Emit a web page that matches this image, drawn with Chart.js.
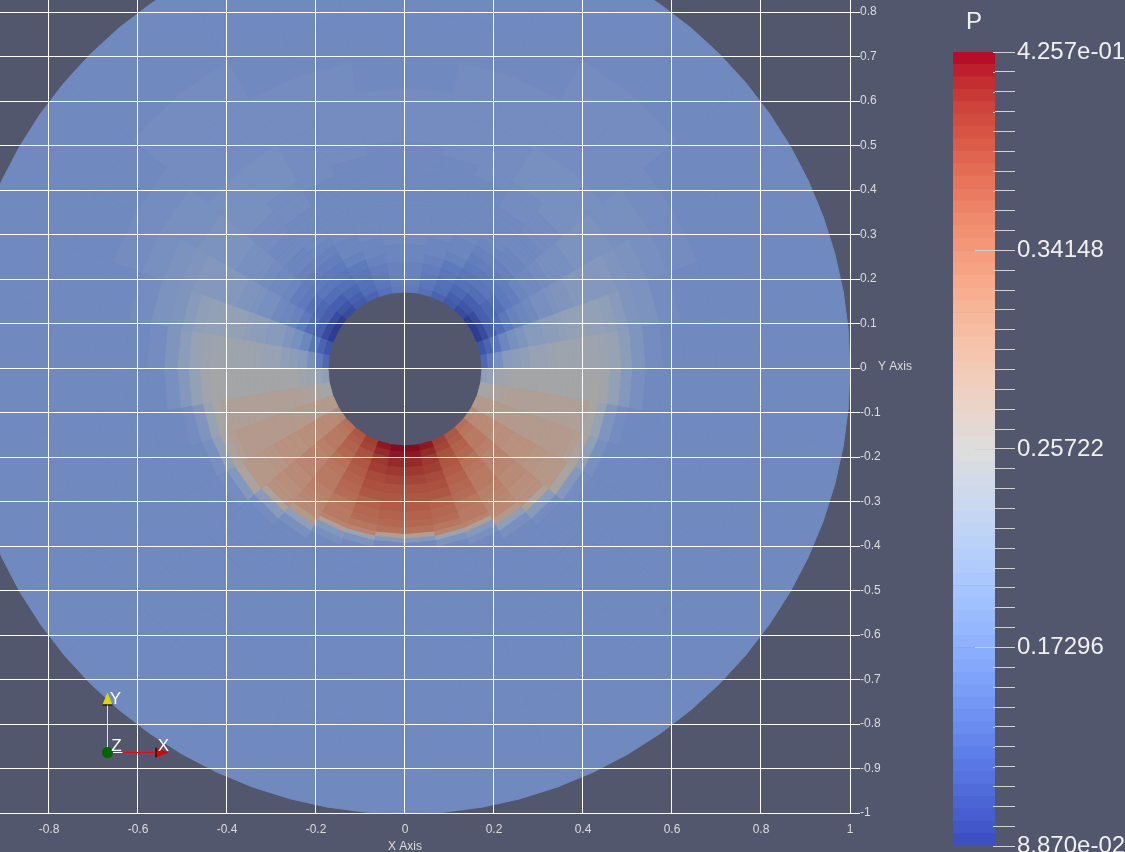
<!DOCTYPE html>
<html>
<head>
<meta charset="utf-8">
<title>P</title>
<style>
  html, body { margin: 0; padding: 0; background: #52576e; overflow: hidden; }
  canvas { position: absolute; top: 0; }
</style>
<script src="https://cdn.jsdelivr.net/npm/chart.js@4/dist/chart.umd.js"></script>
</head>
<body>
<canvas id="field" width="1125" height="852" style="left:0"></canvas>
<canvas id="bar" width="195" height="852" style="left:930px"></canvas>
<script>
const xTicks = [-0.8, -0.6, -0.4, -0.2, 0, 0.2, 0.4, 0.6, 0.8, 1];
const yTicks = [-1, -0.9, -0.8, -0.7, -0.6, -0.5, -0.4, -0.3, -0.2, -0.1, 0, 0.1, 0.2, 0.3, 0.4, 0.5, 0.6, 0.7, 0.8];

// shell edges of the mesh, hole to outer wall
const radii = [0.173, 0.185, 0.2, 0.22, 0.24, 0.26, 0.28, 0.3, 0.32, 0.34, 0.355, 0.37, 0.38,
  0.39, 0.405, 0.42, 0.44, 0.46, 0.485, 0.51, 0.54, 0.58, 0.63, 0.7, 0.8, 1];
const wedgeWidth = 10;
const farField = 0.183;

// P per wedge (from the bottom, going up one side), per shell. Shells past the end of a row are far field
const pressure = [
  [.426, .418, .405, .395, .385, .378, .372, .366, .36, .352, .345, .28, .205],
  [.419, .409, .399, .389, .382, .375, .368, .362, .355, .348, .341, .325, .24, .195],
  [.392, .385, .378, .372, .365, .358, .352, .348, .341, .335, .331, .325, .274, .207, .19],
  [.372, .365, .358, .352, .345, .341, .335, .331, .328, .321, .318, .314, .311, .291, .224, .19],
  [.345, .338, .335, .331, .328, .325, .321, .318, .314, .311, .308, .308, .304, .301, .27, .21, .188],
  [.318, .314, .311, .311, .308, .308, .304, .304, .301, .298, .298, .294, .294, .291, .291, .264, .207, .188],
  [.284, .284, .287, .287, .287, .287, .287, .287, .287, .284, .284, .284, .284, .284, .281, .27, .225, .19],
  [.254, .26, .267, .271, .274, .274, .274, .274, .274, .274, .274, .274, .274, .274, .274, .262, .235, .2, .187],
  [.224, .234, .244, .25, .254, .254, .257, .257, .257, .257, .257, .257, .257, .257, .257, .255, .248, .23, .208, .19],
  [.139, .16, .19, .21, .22, .225, .232, .235, .24, .242, .244, .245, .246, .246, .246, .245, .24, .232, .22, .2, .188],
  [.116, .133, .156, .176, .19, .2, .21, .213, .217, .22, .224, .227, .227, .23, .23, .23, .228, .222, .213, .204, .195, .187],
  [.089, .109, .129, .146, .16, .17, .176, .183, .19, .193, .197, .2, .203, .203, .205, .207, .207, .207, .205, .2, .195, .19, .185],
  [.089, .109, .126, .139, .15, .16, .166, .173, .18, .183, .186, .186, .19, .19, .193, .193, .196, .197, .197, .196, .194, .19, .186],
  [.105, .118, .13, .142, .152, .16, .166, .17, .175, .178, .18, .181, .182, .183, .185, .186, .188, .189, .19, .19, .19, .188, .186, .184],
  [.122, .13, .14, .148, .155, .161, .167, .172, .176, .179, .18, .181, .182, .182, .182, .184, .186, .187, .189, .189, .189, .188, .186, .184],
  [.136, .142, .15, .156, .162, .168, .173, .176, .179, .18, .181, .181, .182, .182, .182, .182, .183, .185, .186, .187, .187, .186, .184],
  [.15, .155, .161, .166, .171, .175, .177, .179, .18, .181, .181, .181, .182, .182, .182, .182, .182, .183, .184, .185, .186, .184, .184],
  [.158, .163, .168, .172, .175, .178, .18, .182, .183, .183, .183, .183, .183, .183, .183, .183, .183, .183, .183, .184, .185, .184]
];
const holeCenterY = -0.002;

const barValues = [0.0887, 0.17296, 0.25722, 0.34148, 0.4257];
const barLabels = ['8.870e-02', '0.17296', '0.25722', '0.34148', '4.257e-01'];
const barBands = 64;
const minorPerMajor = 10;

// cool to warm table
const coolWarm = [[59,76,192],[68,90,204],[77,104,215],[87,117,225],[98,130,234],[108,142,241],[119,154,247],
  [130,165,251],[141,176,254],[152,185,255],[163,194,255],[174,201,253],[184,208,249],[194,213,244],[204,217,238],
  [213,219,230],[221,221,221],[229,216,209],[236,211,197],[241,204,185],[245,196,173],[247,187,160],[247,177,148],
  [247,166,135],[244,154,123],[241,141,111],[236,127,99],[229,112,88],[222,96,77],[213,80,66],[203,62,56],[192,40,47],[180,4,38]];

const pMin = barValues[0], pMax = barValues[barValues.length - 1];
const shade = 0.75; // surface lighting in the 3D view, the bar is unlit

function bandColor(p, light) {
  const t = Math.min(Math.max((p - pMin) / (pMax - pMin), 0), 0.9999);
  const mid = (Math.floor(t * barBands) + 0.5) / barBands * (coolWarm.length - 1);
  const i = Math.floor(mid), f = mid - i;
  const c = coolWarm[i].map((v, k) => Math.round((v + (coolWarm[i + 1][k] - v) * f) * light));
  return `rgb(${c[0]},${c[1]},${c[2]})`;
}

function polar(r, deg) {
  const a = deg * Math.PI / 180;
  return { x: r * Math.cos(a), y: holeCenterY + r * Math.sin(a) };
}

const cells = [];
pressure.forEach((row, k) => {
  for (let s = 0; s < radii.length - 1; s++) {
    const color = bandColor(row[s] ?? farField, shade);
    const outer = radii[s + 1];
    // wedge k and its mirror on the other side of the vertical
    [[-90 + k * wedgeWidth, -90 + (k + 1) * wedgeWidth], [-90 - k * wedgeWidth, -90 - (k + 1) * wedgeWidth]].forEach(([a0, a1]) => {
      // the outer wall is rounder than the wedges, give it a middle vertex
      const rim = s === radii.length - 2 ? [polar(outer, (a0 + a1) / 2)] : [];
      cells.push({
        data: [polar(radii[s], a0), polar(outer, a0), ...rim, polar(outer, a1), polar(radii[s], a1), polar(radii[s], a0)],
        showLine: true,
        fill: 'shape',
        backgroundColor: color,
        borderColor: color,
        borderWidth: 1,
        pointRadius: 0
      });
    });
  }
});

Chart.defaults.font.family = "'Liberation Sans', Arial, sans-serif";
Chart.defaults.animation = false;

const overlay = {
  id: 'overlay',
  afterDraw(chart) {
    const { ctx, scales } = chart;
    const ox = Math.round(scales.x.getPixelForValue(-0.67)) + 0.5;
    const oy = Math.round(scales.y.getPixelForValue(-0.862)) + 0.5;
    ctx.save();
    ctx.textAlign = 'center';
    ctx.textBaseline = 'middle';
    ctx.fillStyle = '#dcdcdc';
    ctx.font = "12px 'Liberation Sans'";
    ctx.fillText('Y Axis', 895, 367);
    ctx.fillText('X Axis', 405, 847);

    // orientation triad
    ctx.lineWidth = 1;
    ctx.strokeStyle = '#ffff00';
    ctx.beginPath(); ctx.moveTo(ox, oy); ctx.lineTo(ox, oy - 48); ctx.stroke();
    ctx.strokeStyle = '#ff0000';
    ctx.beginPath(); ctx.moveTo(ox, oy); ctx.lineTo(ox + 48, oy); ctx.stroke();
    ctx.strokeStyle = '#ffffff';
    ctx.beginPath(); ctx.moveTo(ox, oy); ctx.lineTo(ox + 15, oy); ctx.stroke();

    ctx.fillStyle = '#d8d800';
    ctx.beginPath(); ctx.moveTo(ox, oy - 60); ctx.lineTo(ox + 5, oy - 48); ctx.lineTo(ox - 5, oy - 48); ctx.fill();
    ctx.fillStyle = '#000000';
    ctx.fillRect(ox - 5, oy - 48, 10, 1);
    ctx.fillStyle = '#d80000';
    ctx.beginPath(); ctx.moveTo(ox + 61, oy); ctx.lineTo(ox + 48, oy - 5); ctx.lineTo(ox + 48, oy + 5); ctx.fill();
    ctx.fillStyle = '#000000';
    ctx.fillRect(ox + 48, oy - 5, 1, 10);
    ctx.fillStyle = '#006400';
    ctx.beginPath(); ctx.arc(ox, oy, 5.5, 0, Math.PI * 2); ctx.fill();

    ctx.fillStyle = '#ffffff';
    ctx.font = "17px 'Liberation Sans'";
    ctx.fillText('Y', ox + 8, oy - 53);
    ctx.fillText('Z', ox + 9, oy - 6);
    ctx.fillText('X', ox + 56, oy - 6);
    ctx.restore();
  }
};

new Chart(document.getElementById('field'), {
  type: 'scatter',
  data: { datasets: cells },
  plugins: [overlay],
  options: {
    responsive: false,
    events: [],
    layout: { padding: 0 },
    plugins: { legend: { display: false }, tooltip: { enabled: false } },
    scales: {
      x: {
        type: 'linear', position: 'bottom', min: -0.9101, max: 1,
        afterBuildTicks: s => { s.ticks = xTicks.map(value => ({ value })); },
        afterFit: s => { s.height = 39; s.paddingLeft = s.paddingRight = 0; },
        grid: { color: '#ffffff', z: 1, drawTicks: false },
        border: { color: '#ffffff', z: 1 },
        ticks: { color: '#dcdcdc', font: { size: 12 }, padding: 9, maxRotation: 0, autoSkip: false, callback: v => String(v) }
      },
      y: {
        type: 'linear', position: 'right', min: -1, max: 0.827,
        afterBuildTicks: s => { s.ticks = yTicks.map(value => ({ value })); },
        afterFit: s => { s.width = 275; s.paddingTop = s.paddingBottom = 0; },
        grid: { color: '#ffffff', z: 1, tickLength: 10 },
        border: { color: '#ffffff', z: 1 },
        ticks: { color: '#dcdcdc', font: { size: 12 }, padding: 0, autoSkip: false, callback: v => String(v) }
      }
    }
  }
});

const barEdges = Array.from({ length: barBands + 1 }, (_, i) => pMin + (pMax - pMin) * i / barBands);
const barTickValues = [];
for (let m = 0; m < barValues.length - 1; m++) {
  for (let i = 0; i < minorPerMajor; i++) {
    barTickValues.push(barValues[m] + (barValues[m + 1] - barValues[m]) * i / minorPerMajor);
  }
}
barTickValues.push(pMax);

const majorTicks = {
  id: 'majorTicks',
  afterDraw(chart) {
    const { ctx, scales, chartArea } = chart;
    ctx.save();
    ctx.strokeStyle = '#d2d2d2';
    ctx.lineWidth = 1;
    scales.y.ticks.forEach(t => {
      const inner = barValues.slice(1, -1).includes(t.value) ? 45 : 63; // long stub for the labelled middle ticks
      const py = Math.round(scales.y.getPixelForValue(t.value)) + 0.5;
      ctx.beginPath(); ctx.moveTo(inner, py); ctx.lineTo(chartArea.right, py); ctx.stroke();
    });
    ctx.fillStyle = '#f0f0f0';
    ctx.font = "24px 'Liberation Sans'";
    ctx.textAlign = 'center';
    ctx.textBaseline = 'middle';
    ctx.fillText('P', 44, 22);
    ctx.restore();
  }
};

new Chart(document.getElementById('bar'), {
  type: 'bar',
  data: {
    labels: [''],
    datasets: barEdges.slice(0, -1).map((lo, i) => ({
      data: [[lo, barEdges[i + 1]]],
      grouped: false,
      barPercentage: 1,
      categoryPercentage: 1,
      backgroundColor: bandColor((lo + barEdges[i + 1]) / 2, 1),
      borderWidth: 0
    }))
  },
  plugins: [majorTicks],
  options: {
    responsive: false,
    events: [],
    layout: { padding: { left: 23, top: 52, bottom: 6 } },
    plugins: { legend: { display: false }, tooltip: { enabled: false } },
    scales: {
      x: { display: false },
      y: {
        type: 'linear', position: 'right', min: pMin, max: pMax,
        afterBuildTicks: s => { s.ticks = barTickValues.map(value => ({ value })); },
        afterFit: s => { s.width = 130; s.paddingTop = s.paddingBottom = 0; },
        grid: { drawOnChartArea: false, color: '#d2d2d2', tickLength: 20 },
        border: { display: false },
        ticks: {
          color: '#f0f0f0', font: { size: 24 }, padding: 2, autoSkip: false,
          callback: v => {
            const m = barValues.findIndex(b => Math.abs(b - v) < 1e-6);
            return m < 0 ? '' : barLabels[m];
          }
        }
      }
    }
  }
});
</script>
</body>
</html>
